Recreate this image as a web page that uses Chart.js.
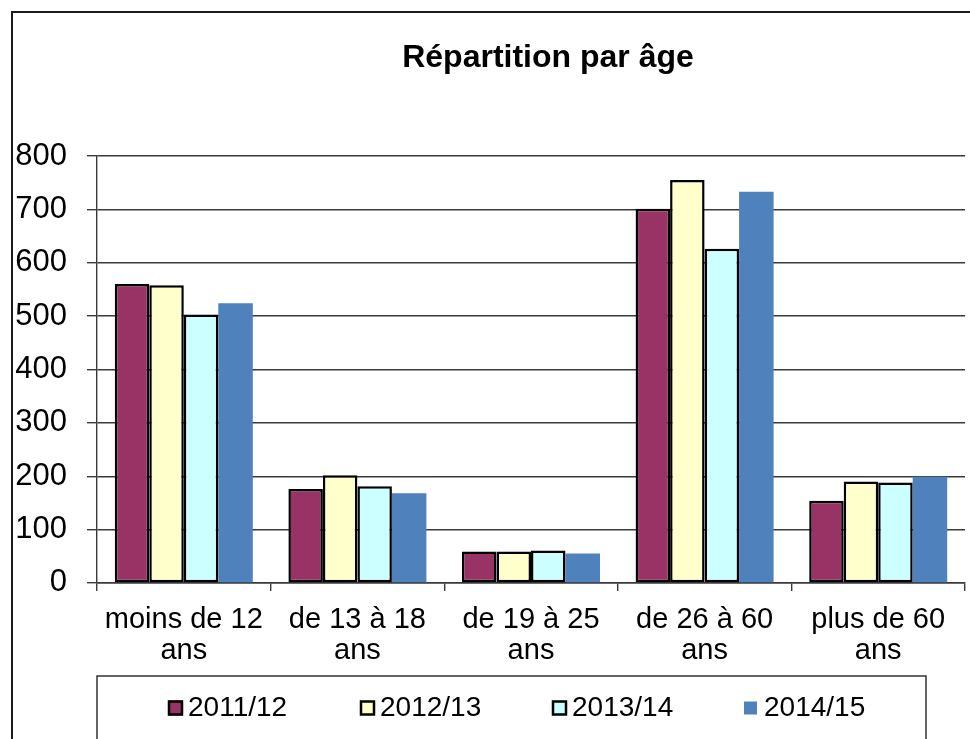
<!DOCTYPE html>
<html lang="fr">
<head>
<meta charset="utf-8">
<title>Répartition par âge</title>
<script src="https://cdn.jsdelivr.net/npm/chart.js@4/dist/chart.umd.min.js"></script>
<style>
  html, body { margin: 0; padding: 0; background: #fff; }
  #ageChart { display: block; }
</style>
</head>
<body>
<canvas id="ageChart" width="970" height="739"></canvas>
<script>
// données
const categories = [
    ['moins de 12', 'ans'],
    ['de 13 à 18', 'ans'],
    ['de 19 à 25', 'ans'],
    ['de 26 à 60', 'ans'],
    ['plus de 60', 'ans']
];
const seriesLabels = ['2011/12', '2012/13', '2013/14', '2014/15'];
const values2011 = [560, 176, 59, 701, 154];
const values2012 = [558, 202, 59, 755, 190];
const values2013 = [503, 181, 61, 626, 188];
const values2014 = [524, 168, 55, 733, 199];
const yTicks = [0, 100, 200, 300, 400, 500, 600, 700, 800];
const titleText = 'Répartition par âge';

const fontFamily = '"Liberation Sans", Arial, sans-serif';
const gridColor = '#3a3a3a';

// cadre, titre et légende encadrée (style Excel)
const excelFrame = {
    id: 'excelFrame',
    afterDraw(chart) {
        const ctx = chart.ctx;
        ctx.save();
        // cadre extérieur
        ctx.strokeStyle = '#1a1a1a';
        ctx.lineWidth = 2;
        ctx.beginPath();
        ctx.moveTo(12, 739);
        ctx.lineTo(12, 12);
        ctx.lineTo(970, 12);
        ctx.stroke();

        // titre
        ctx.fillStyle = '#000';
        ctx.font = 'bold 32px ' + fontFamily;
        ctx.textAlign = 'center';
        ctx.textBaseline = 'middle';
        ctx.fillText(titleText, 548, 58);

        // boîte de légende
        ctx.strokeStyle = '#333';
        ctx.lineWidth = 1.5;
        ctx.beginPath();
        ctx.moveTo(97, 740);
        ctx.lineTo(97, 676);
        ctx.lineTo(926, 676);
        ctx.lineTo(926, 740);
        ctx.stroke();

        ctx.font = '28px ' + fontFamily;
        ctx.textAlign = 'left';
        chart.data.datasets.forEach((ds, i) => {
            const x = 168 + i * 192;
            const y = 708;
            if (ds.borderWidth > 0) {
                ctx.fillStyle = ds.backgroundColor;
                ctx.fillRect(x, y - 7.5, 15, 15);
                ctx.strokeStyle = '#000';
                ctx.lineWidth = 2.5;
                ctx.strokeRect(x + 1, y - 6.5, 13, 13);
            } else {
                ctx.fillStyle = ds.backgroundColor;
                ctx.fillRect(x, y - 6.5, 13, 13);
            }
            ctx.fillStyle = '#000';
            ctx.fillText(ds.label, x + 20, y);
        });
        ctx.restore();
    }
};

const barStyle = (color, border) => ({
    backgroundColor: color,
    borderColor: '#000',
    borderWidth: border,
    borderSkipped: false
});

new Chart(document.getElementById('ageChart'), {
    type: 'bar',
    data: {
        labels: categories,
        datasets: [
            { label: seriesLabels[0], data: values2011, ...barStyle('#993366', 2.5) },
            { label: seriesLabels[1], data: values2012, ...barStyle('#FFFFCC', 2.5) },
            { label: seriesLabels[2], data: values2013, ...barStyle('#CCFFFF', 2.5) },
            { label: seriesLabels[3], data: values2014, ...barStyle('#4F81BD', 0) }
        ]
    },
    options: {
        responsive: false,
        animation: false,
        devicePixelRatio: 1,
        layout: {
            padding: { top: 156, right: 5, bottom: 58, left: 0 }
        },
        datasets: {
            bar: {
                categoryPercentage: 0.795,
                barPercentage: 1
            }
        },
        plugins: {
            legend: { display: false },
            title: { display: false },
            tooltip: { enabled: false }
        },
        scales: {
            x: {
                grid: {
                    display: true,
                    drawOnChartArea: false,
                    color: gridColor,
                    lineWidth: 1.4,
                    tickLength: 8
                },
                border: { display: true, color: gridColor, width: 1.4 },
                ticks: {
                    color: '#000',
                    padding: 14,
                    maxRotation: 0,
                    font: { family: fontFamily, size: 29, lineHeight: 1.07 }
                }
            },
            y: {
                min: 0,
                max: 800,
                afterBuildTicks: (scale) => {
                    scale.ticks = yTicks.map(v => ({ value: v }));
                },
                afterFit: (scale) => { scale.width = 97; },
                grid: {
                    color: gridColor,
                    lineWidth: 1.4,
                    tickLength: 10
                },
                border: { display: true, color: gridColor, width: 1.4 },
                ticks: {
                    color: '#000',
                    padding: 20,
                    font: { family: fontFamily, size: 31 }
                }
            }
        }
    },
    plugins: [excelFrame]
});
</script>
</body>
</html>
